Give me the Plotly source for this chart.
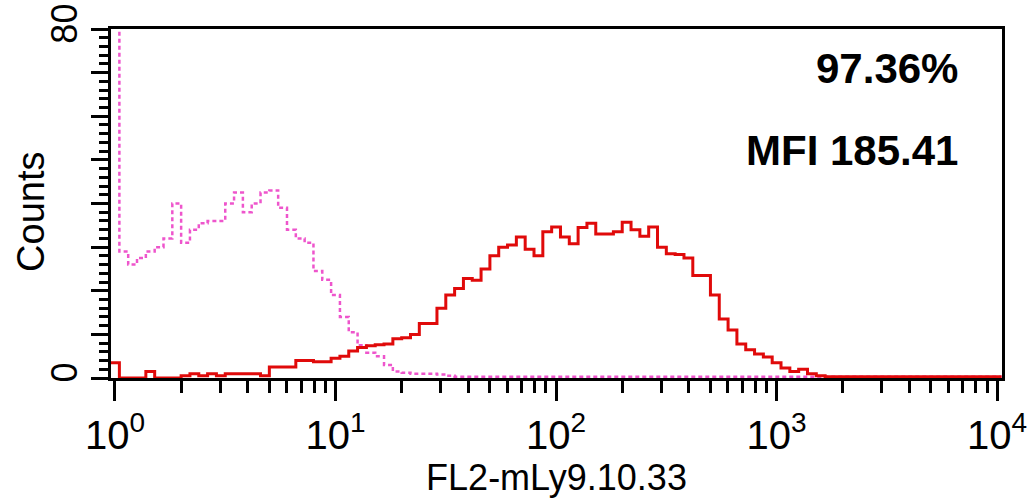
import plotly.graph_objects as go

# histogram channels: centres at 0.04 decade steps from 10^0 to 10^4
chan_step = 0.04
n_chan = 101

# isotype control (pink, dashed) - counts per channel, first channel off scale
isotype = [95, 29, 26, 27.5, 29, 30, 32, 40, 31, 34,
           35.5, 36, 36, 40, 42.5, 38, 40, 42.5, 43, 39,
           34, 32, 31, 24.5, 22.5, 19, 14, 10.5, 7.5, 5.8,
           5, 3, 1.5, 1.2, 1, 1, 1, 0.8, 0.5, 0.3,
           0.3, 0.3, 0.3, 0.3, 0.3, 0.3, 0.3, 0.3, 0.3, 0.3,
           0.3, 0.3, 0.3, 0.3, 0.3, 0.3, 0.3, 0.3, 0.3, 0.3,
           0.3, 0.3, 0.3, 0.3, 0.3, 0.3, 0.3, 0.3, 0.3, 0.3,
           0.3, 0.3, 0.3, 0.3, 0.3, 0.3, 0.3, 0.3, 0.3, 0.3,
           0.3, 0.3, 0.3, 0.3, 0.3, 0.3, 0.3, 0.3, 0.3, 0.3,
           0.3, 0.3, 0.3, 0.3, 0.3, 0.3, 0.3, 0.3, 0.3, 0.3,
           0.3]

# stained sample (red, solid)
stained = [3.5, 0, 0, 0, 1.5, 0, 0, 0, 0.5, 1,
           0.5, 1, 0.5, 1, 1, 1, 1, 0.5, 2.5, 2.5,
           2.5, 4, 4, 3.7, 3.7, 4.5, 5, 6.2, 7, 7.4,
           7.6, 7.8, 9, 9.2, 10, 12.5, 12.5, 16, 19, 20.5,
           22.8, 22.4, 25, 28, 30, 30.5, 32.3, 29.5, 28, 33.5,
           34.6, 32.3, 30.8, 34.5, 35.5, 33, 33, 33.5, 35.7, 34,
           32.5, 34.6, 30, 28.5, 28.3, 27.5, 23.5, 23.5, 19, 13.5,
           11, 7.8, 6.5, 5.5, 4.8, 3.5, 2.3, 1.5, 2, 1,
           0.5, 0.3, 0.3, 0.3, 0.3, 0.3, 0.3, 0.3, 0.3, 0.3,
           0.3, 0.3, 0.3, 0.3, 0.3, 0.3, 0.3, 0.3, 0.3, 0.3,
           0.3]

decades = [0, 1, 2, 3, 4]
y_major = [0, 10, 20, 30, 40, 50, 60, 70, 80]
y_labels = ['0', '', '', '', '', '', '', '', '80']
pct_text = '97.36%'
mfi_text = 'MFI 185.41'

# bin left edges (plus the final right edge) for a step trace
edges = [10 ** (chan_step * k - chan_step / 2) for k in range(n_chan + 1)]


def step(counts):
    return edges, list(counts) + [counts[-1]]


fig = go.Figure()
x, y = step(isotype)
fig.add_trace(go.Scatter(x=x, y=y, mode='lines', line_shape='hv',
                         line=dict(color='#ee55cc', width=2.5, dash='4px,3px')))
x, y = step(stained)
fig.add_trace(go.Scatter(x=x, y=y, mode='lines', line_shape='hv',
                         line=dict(color='#e00a0a', width=3)))

minor_x = [m * 10 ** d for d in decades[:-1] for m in range(2, 10)]

fig.update_layout(
    width=1030, height=504,
    margin=dict(l=111, r=28, t=29, b=126),
    plot_bgcolor='white', paper_bgcolor='white',
    showlegend=False,
    font=dict(family='Liberation Sans', color='black'),
)
fig.update_xaxes(
    type='log', range=[-0.018, 4.022], automargin=False,
    ticklabeloverflow='allow',
    showgrid=False, zeroline=False,
    showline=True, linecolor='black', linewidth=2.5, mirror=True,
    ticks='outside', ticklen=20, tickwidth=3, tickcolor='black',
    tickvals=[10 ** d for d in decades],
    ticktext=['10<sup>%d</sup>' % d for d in decades],
    tickfont=dict(size=40),
    minor=dict(tickvals=minor_x, ticks='outside', ticklen=12, tickwidth=3,
               tickcolor='black', showgrid=False),
    title=dict(text='FL2-mLy9.10.33', font=dict(size=36), standoff=2),
)
fig.update_yaxes(
    range=[0, 80], automargin=False,
    ticklabeloverflow='allow',
    showgrid=False, zeroline=False,
    showline=True, linecolor='black', linewidth=2.5, mirror=True,
    ticks='outside', ticklen=17, tickwidth=3, tickcolor='black',
    tickvals=y_major, ticktext=y_labels, tickangle=-90,
    tickfont=dict(size=36),
    minor=dict(dtick=2, ticks='outside', ticklen=9, tickwidth=2.5,
               tickcolor='black', showgrid=False),
)

# y title placed by hand, a bit closer to the axis than plotly puts it
fig.add_annotation(text='Counts', xref='paper', yref='paper', x=0, y=0.476,
                   xanchor='center', yanchor='middle', xshift=-80,
                   textangle=-90, showarrow=False,
                   font=dict(size=38, color='black'))

fig.add_annotation(text='<b>%s</b>' % pct_text, xref='paper', yref='paper',
                   x=0.953, y=0.888, xanchor='right', yanchor='middle',
                   showarrow=False, font=dict(size=42, color='black'))
fig.add_annotation(text='<b>%s</b>' % mfi_text, xref='paper', yref='paper',
                   x=0.953, y=0.653, xanchor='right', yanchor='middle',
                   showarrow=False, font=dict(size=42, color='black'))

# drop the page's default body margin so the figure fills the window
fig.write_html('out.html', config={'displayModeBar': False},
               post_script="document.body.style.margin='0';")
